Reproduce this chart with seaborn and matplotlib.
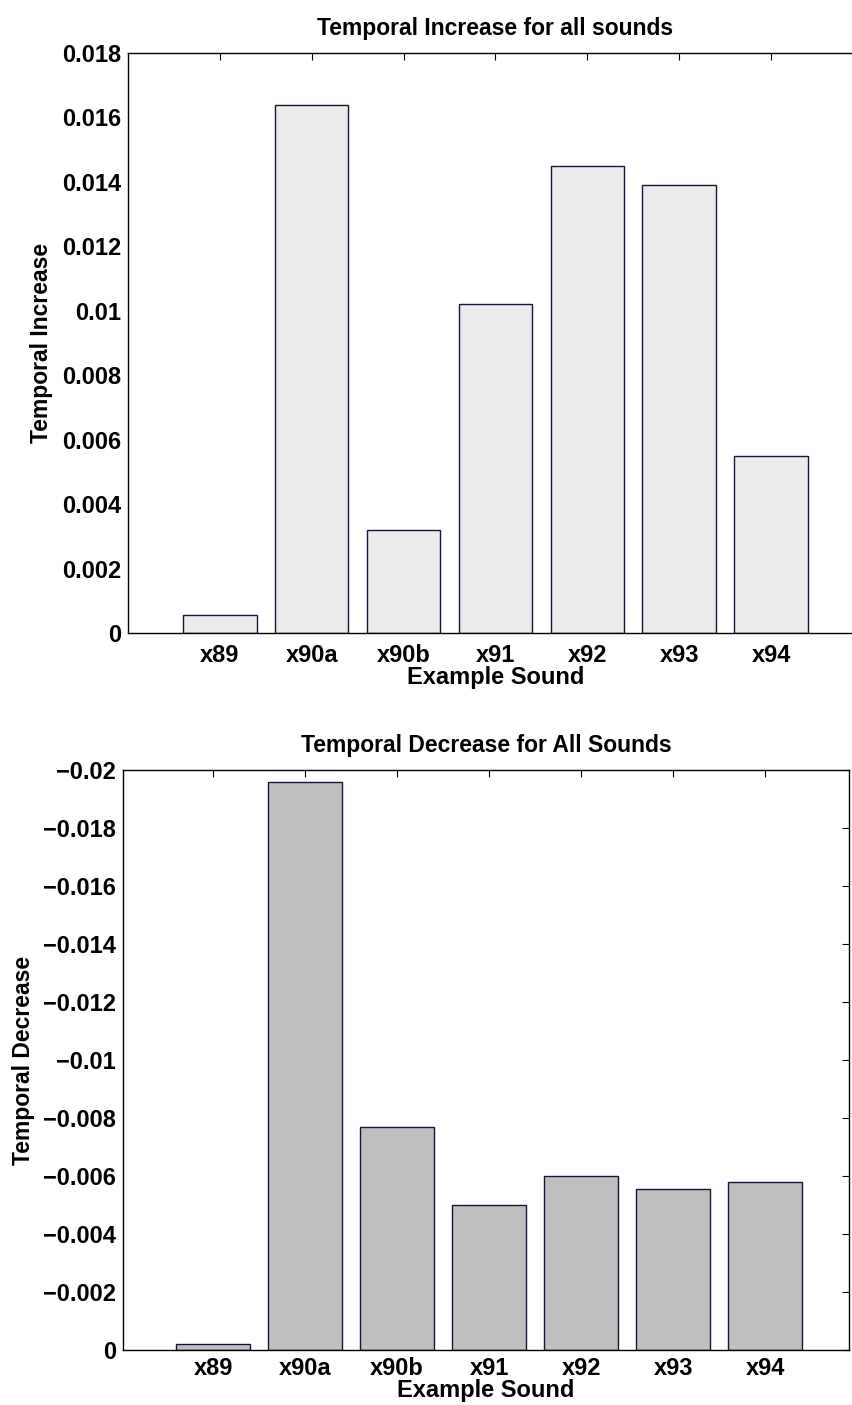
import matplotlib
matplotlib.use("Agg")
import matplotlib.pyplot as plt
import seaborn as sns
import numpy as np

categories = ["x89", "x90a", "x90b", "x91", "x92", "x93", "x94"]
increase = [0.00055, 0.0164, 0.0032, 0.0102, 0.0145, 0.0139, 0.0055]
decrease = [-0.0002, -0.0196, -0.0077, -0.0050, -0.0060, -0.00555, -0.0058]
inc_ticks = [0, 0.002, 0.004, 0.006, 0.008, 0.01, 0.012, 0.014, 0.016, 0.018]
inc_ticklabels = ["0", "0.002", "0.004", "0.006", "0.008", "0.01", "0.012", "0.014", "0.016", "0.018"]
dec_ticks = [0, -0.002, -0.004, -0.006, -0.008, -0.01, -0.012, -0.014, -0.016, -0.018, -0.02]
dec_ticklabels = ["0", "\u22120.002", "\u22120.004", "\u22120.006", "\u22120.008", "\u22120.01",
                  "\u22120.012", "\u22120.014", "\u22120.016", "\u22120.018", "\u22120.02"]

sns.set_style("white")
plt.rcParams["font.family"] = ["Liberation Sans", "DejaVu Sans"]
plt.rcParams["font.weight"] = "bold"
plt.rcParams["text.color"] = "black"
plt.rcParams["axes.labelcolor"] = "black"

fig = plt.figure(figsize=(8.52, 14.05), dpi=100)
ax1 = fig.add_axes([0.1502, 0.5495, 0.8627, 0.4128])
ax2 = fig.add_axes([0.1444, 0.0391, 0.852, 0.4129])

def style(ax, xpad):
    for s in ax.spines.values():
        s.set_visible(True)
        s.set_color("black")
        s.set_linewidth(1.0)
    ax.tick_params(axis="both", direction="in", length=5, width=0.8,
                   top=True, right=True, labelsize=17, colors="black")
    ax.tick_params(axis="y", pad=5)
    ax.tick_params(axis="x", pad=xpad)
    for lab in ax.get_xticklabels() + ax.get_yticklabels():
        lab.set_fontweight("bold")

sns.barplot(x=categories, y=increase, ax=ax1, color="#ebebeb", saturation=1,
            edgecolor="#14143c", linewidth=1.0, width=0.8)
ax1.set_xlim(-1, 7)
ax1.set_ylim(0, 0.018)
ax1.set_yticks(inc_ticks)
ax1.set_yticklabels(inc_ticklabels)
ax1.set_title("Temporal Increase for all sounds", fontsize=16.5, fontweight="bold",
              pad=13, color="black")
ax1.set_xlabel("Example Sound", fontsize=17, fontweight="bold", labelpad=-1)
ax1.set_ylabel("Temporal Increase", fontsize=16.5, fontweight="bold", labelpad=6)
style(ax1, 8)

sns.barplot(x=categories, y=decrease, ax=ax2, color="#bfbfbf", saturation=1,
            edgecolor="#14143c", linewidth=1.0, width=0.8)
ax2.set_xlim(-0.98, 6.91)
ax2.set_ylim(0, -0.02)
ax2.set_yticks(dec_ticks)
ax2.set_yticklabels(dec_ticklabels)
ax2.set_title("Temporal Decrease for All Sounds", fontsize=16.5, fontweight="bold",
              pad=13, color="black")
ax2.set_xlabel("Example Sound", fontsize=17, fontweight="bold", labelpad=-1)
ax2.set_ylabel("Temporal Decrease", fontsize=16.5, fontweight="bold", labelpad=6)
style(ax2, 5)

fig.savefig("out.png", dpi=100)
